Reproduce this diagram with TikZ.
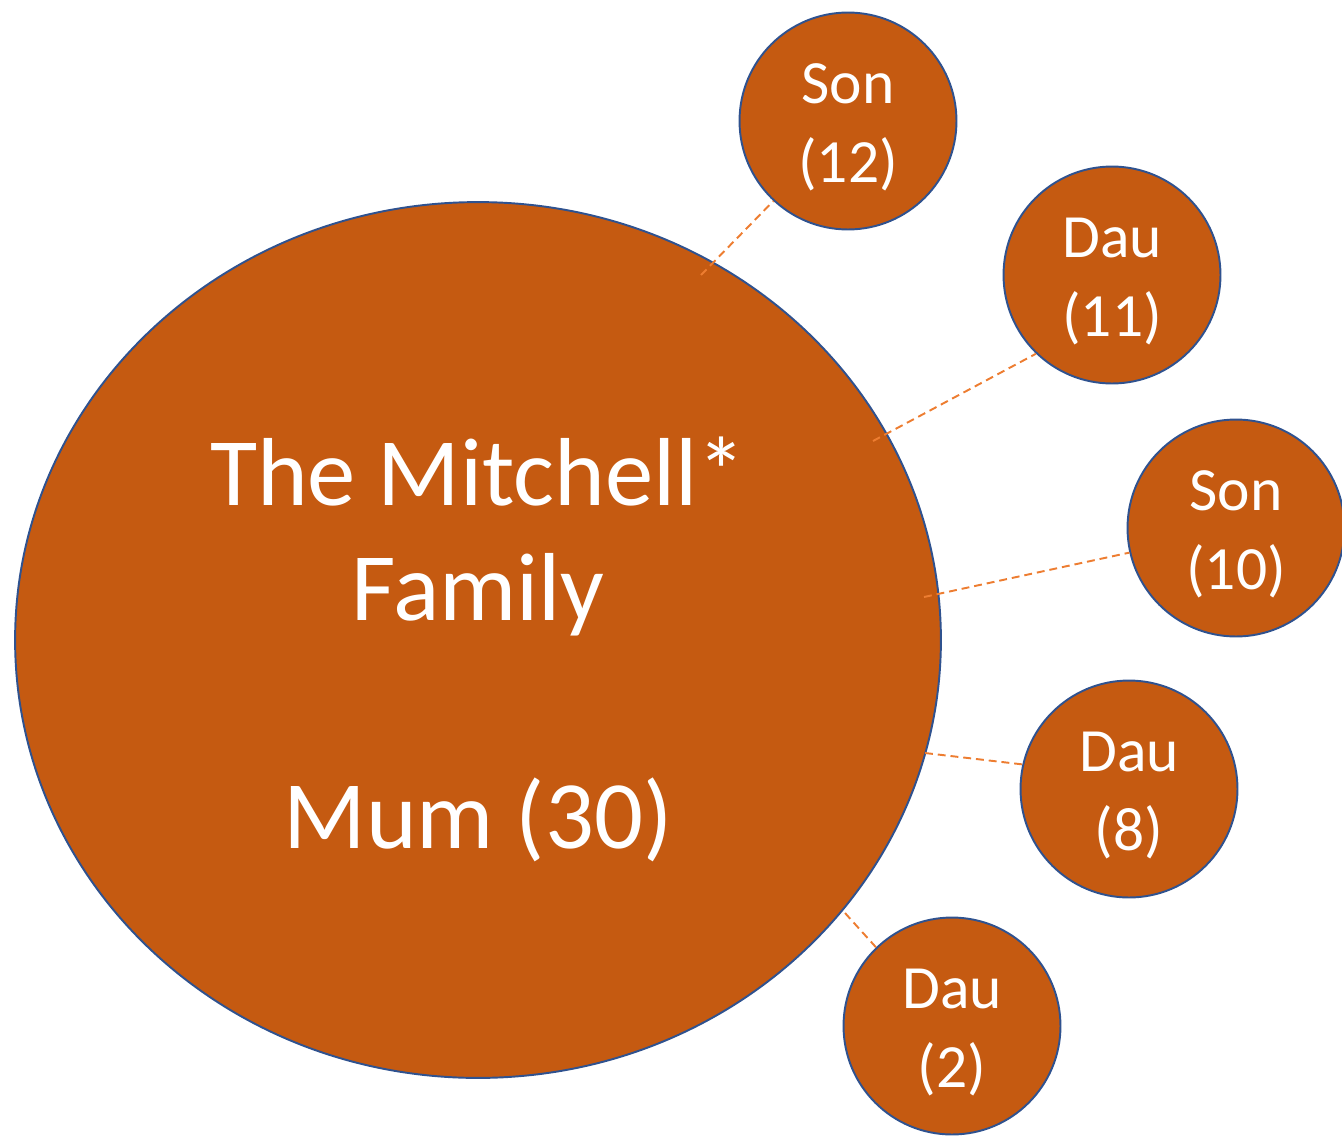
\documentclass[tikz,border=0pt]{standalone}
\usepackage{fontspec}
\setmainfont{Carlito}
\usetikzlibrary{shapes.geometric}
\definecolor{famfill}{HTML}{C55A11}
\definecolor{famline}{HTML}{2F528F}
\definecolor{linkline}{HTML}{ED7D31}
\newcommand{\topgap}[1]{\rule{0pt}{#1}}
\begin{document}
\begin{tikzpicture}[x=0.02cm, y=-0.02cm,
		family/.style={draw=famline, line width=1.1pt, ellipse, fill=famfill, text=white, inner sep=0pt, minimum width=18.52cm, minimum height=17.52cm, align=center, font=\fontsize{55}{65}\selectfont},
		child/.style={draw=famline, line width=1.1pt, circle, fill=famfill, text=white, inner sep=0pt, minimum size=4.34cm, align=center, font=\fontsize{35}{45}\selectfont},
		link/.style={draw=linkline, line width=1.1pt, dash pattern=on 4.5pt off 2.8pt}]
				\useasboundingbox (0, 0) rectangle (1342, 1140);
				\node[family] (F)at(478, 640) {\topgap{50pt}The Mitchell*\\Family\\[65pt]Mum (30)};
				\node[child] (S12)at(848, 121) {\topgap{30pt}Son\\(12)};
				\node[child] (D11)at(1112, 275) {\topgap{30pt}Dau\\(11)};
				\node[child] (S10)at(1236, 528) {\topgap{30pt}Son\\(10)};
				\node[child] (D8)at(1129, 789) {\topgap{30pt}Dau\\(8)};
				\node[child] (D2)at(952, 1026) {\topgap{30pt}Dau\\(2)};
				\coordinate (pS12) at (701, 275);
				\coordinate (pD11) at (873, 441);
				\coordinate (pS10) at (924, 597);
				\coordinate (pD8) at (925, 753);
				\coordinate (pD2) at (845, 913);
				\draw[link] (pS12) -- (S12.227);
				\draw[link] (pD11) -- (D11.226);
				\draw[link] (pS10) -- (S10.193);
				\draw[link] (pD8) -- (D8.167);
				\draw[link] (pD2) -- (D2.134);
			\end{tikzpicture}
\end{document}
